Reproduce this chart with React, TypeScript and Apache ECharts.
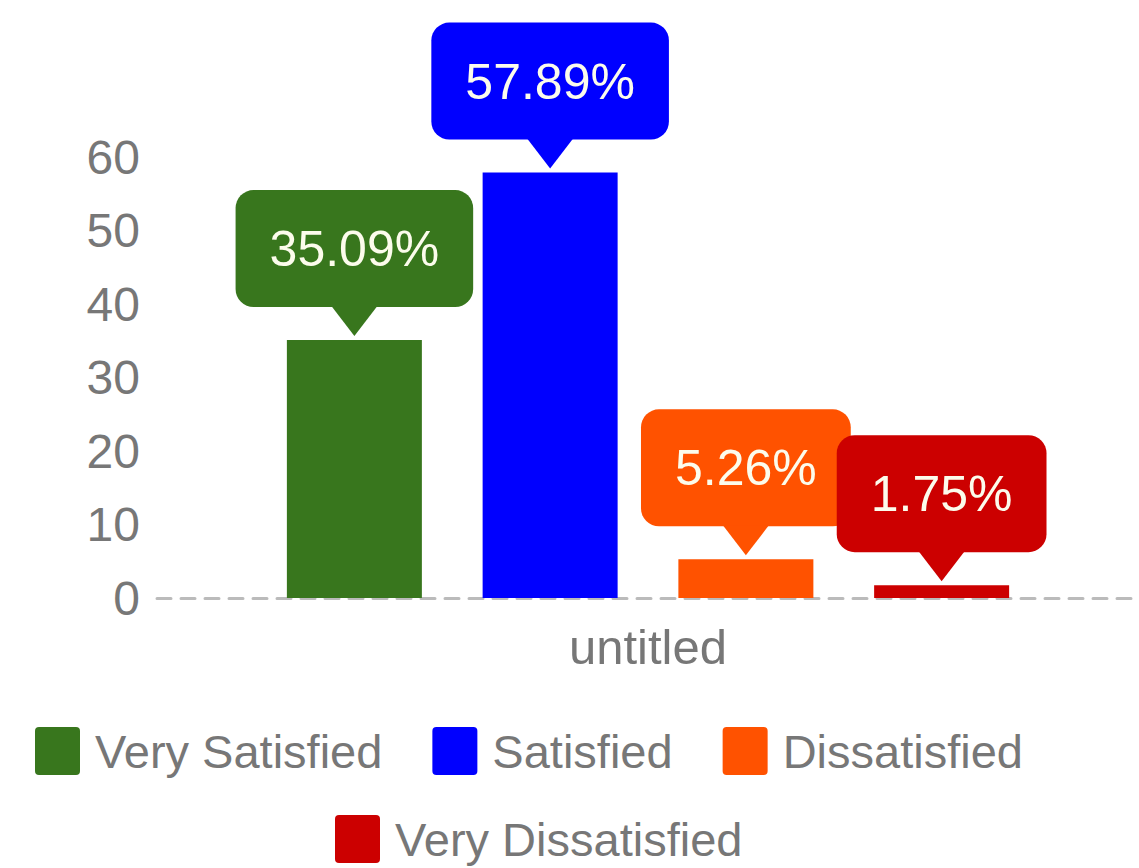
import React, { useEffect, useRef } from "react";
import * as echarts from "echarts";

const categories = ["untitled"];
const seriesNames = ["Very Satisfied", "Satisfied", "Dissatisfied", "Very Dissatisfied"];
const seriesValues = [35.09, 57.89, 5.26, 1.75];
const seriesColors = ["#38761d", "#0000ff", "#ff5200", "#cc0000"];
const yTicks = { min: 0, max: 60, interval: 10 };

const FONT = "'Liberation Sans', Arial, sans-serif";
const POINTER = "path://M0,0 L46,0 L23,30 Z";
const LEGEND_ICON = "path://M4,0 H41 Q45,0 45,4 V44 Q45,48 41,48 H4 Q0,48 0,44 V4 Q0,0 4,0 Z";

export default function App() {
  const ref = useRef<HTMLDivElement>(null);
  useEffect(() => {
    if (!ref.current) return;
    const chart = echarts.init(ref.current, null, { renderer: "svg" });
    const series = seriesNames.map((name, i) => ({
      name,
      type: "bar",
      data: [seriesValues[i]],
      barWidth: 135,
      barGap: "45%",
      itemStyle: { color: seriesColors[i] },
      label: {
        show: true,
        position: "top",
        distance: 33,
        formatter: (p: any) => p.value.toFixed(2) + "%",
        color: "#fcfcec",
        fontFamily: FONT,
        fontSize: 50,
        lineHeight: 56,
        backgroundColor: seriesColors[i],
        borderRadius: 18,
        padding: [31, 34, 30, 34],
      },
      markPoint: {
        symbol: POINTER,
        symbolSize: [46, 30],
        symbolOffset: [0, -19],
        itemStyle: { color: seriesColors[i] },
        label: { show: false },
        silent: true,
        data: [{ coord: [categories[0], seriesValues[i]] }],
      },
    }));
    const legendCommon = {
      itemWidth: 45,
      itemHeight: 48,
      itemGap: 50,
      padding: 0,
      icon: LEGEND_ICON,
      textStyle: { color: "#777777", fontSize: 47, fontFamily: FONT, lineHeight: 40, padding: [0, 0, 0, 10] },
    };
    chart.setOption({
      animation: false,
      grid: { left: 157, right: 0, top: 157, bottom: 270 },
      xAxis: {
        type: "category",
        data: categories,
        axisTick: { show: false },
        axisLine: { show: true, lineStyle: { color: "#bbbbbb", width: 3, type: [14, 10] } },
        axisLabel: { color: "#777777", fontSize: 49, fontFamily: FONT, margin: 24 },
      },
      yAxis: {
        type: "value",
        min: yTicks.min,
        max: yTicks.max,
        interval: yTicks.interval,
        splitLine: { show: false },
        axisLine: { show: false },
        axisTick: { show: false },
        axisLabel: { color: "#777777", fontSize: 48, fontFamily: FONT, margin: 17 },
      },
      legend: [
        { ...legendCommon, data: seriesNames.slice(0, 3), left: 35, top: 727 },
        { ...legendCommon, data: seriesNames.slice(3), left: 335, top: 815 },
      ],
      series,
    });
    return () => chart.dispose();
  }, []);
  return (
    <div
      ref={ref}
      style={{ position: "fixed", left: 0, top: 0, width: 1139, height: 868, background: "#ffffff" }}
    />
  );
}
